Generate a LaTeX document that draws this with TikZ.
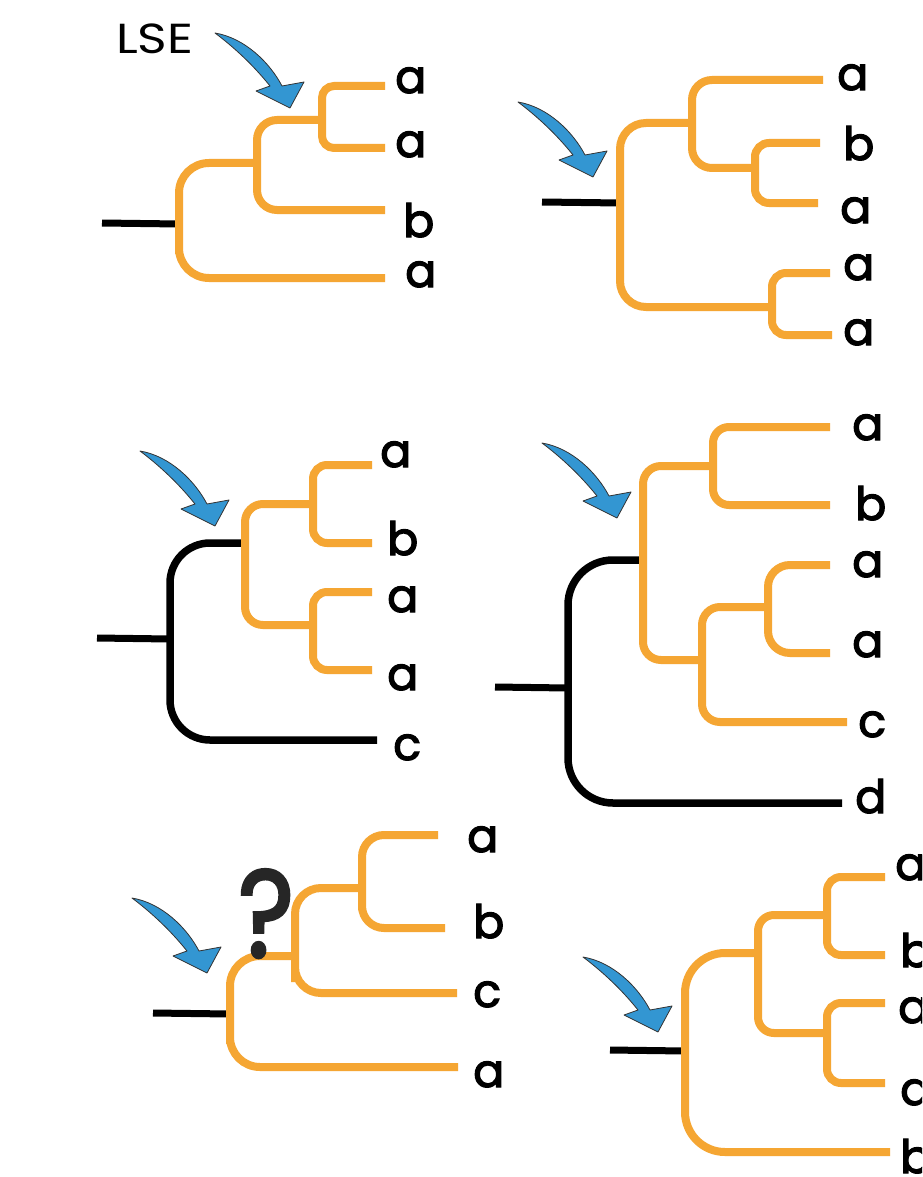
\documentclass[tikz,border=0pt]{standalone}
\usepackage{fontspec}
\setmainfont{Poppins}
\newfontfamily\heavyfont{Poppins}[FakeBold=2.5]
\definecolor{branch}{RGB}{245,166,51}
\definecolor{lseblue}{RGB}{51,150,210}
\tikzset{
  branchline/.style={line width=8pt, draw=branch, rounded corners=#1},
  branchline/.default=16,
  blackline/.style={line width=7.5pt, draw=black, rounded corners=#1},
  blackline/.default=30,
  stubline/.style={line width=7pt, draw=black},
  leaflbl/.style={anchor=base west, inner sep=0pt, font=\heavyfont\fontsize{46}{46}\selectfont},
  lsearrow/.pic={
    \filldraw[fill=lseblue, draw=black!80, line width=0.8pt, line join=round]
      (-75,-75) .. controls (-45,-70) and (-20,-45) .. (-8,-22)
      -- (14,-26) -- (0,0) -- (-34,-17) -- (-20,-22)
      .. controls (-36,-42) and (-55,-60) .. (-75,-75) -- cycle;
  }
}
\begin{document}
\begin{tikzpicture}[x=1pt,y=-1pt]
\useasboundingbox (0,0) rectangle (922,1177);
\fill[white] (0,0) rectangle (922,1177);
\clip (0,0) rectangle (922,1177);

% ---------------- Tree 1 ----------------
\coordinate (t1s) at (102,223);
\coordinate (t1r) at (179,224);
\coordinate (t1n2) at (257,163);
\coordinate (t1n3) at (322,120);
\coordinate (t1e1) at (385,86);
\coordinate (t1e2) at (385,148);
\coordinate (t1e3) at (385,210);
\coordinate (t1e4) at (385,278);
\draw[stubline] (t1s) -- (t1r);
\draw[branchline=30] (t1n2) -| (t1r) |- (t1e4);
\draw[branchline=20] (t1n3) -| (t1n2) |- (t1e3);
\draw[branchline=12] (t1e1) -| (t1n3) |- (t1e2);
\node[leaflbl] (t1a1) at (395,93) {a};
\node[leaflbl] (t1a2) at (395,157) {a};
\node[leaflbl] (t1a3) at (403,237) {b};
\node[leaflbl] (t1a4) at (405,287) {a};
\node[anchor=base west, inner sep=0pt, font=\fontsize{42}{42}\selectfont] (lse) at (116,54) {\scalebox{1.2}[1]{LSE}};
\coordinate (t1tip) at (290,108);
\pic at (t1tip) {lsearrow};

% ---------------- Tree 2 ----------------
\coordinate (t2s) at (542,202);
\coordinate (t2r) at (620,203);
\coordinate (t2A) at (692,123);
\coordinate (t2B) at (755,168);
\coordinate (t2C) at (772,307);
\coordinate (t2e1) at (823,80);
\coordinate (t2e2) at (820,143);
\coordinate (t2e3) at (818,203);
\coordinate (t2e4) at (830,273);
\coordinate (t2e5) at (832,335);
\draw[stubline] (t2s) -- (t2r);
\draw[branchline=26] (t2A) -| (t2r) |- (t2C);
\draw[branchline=20] (t2e1) -| (t2A) |- (t2B);
\draw[branchline=14] (t2e2) -| (t2B) |- (t2e3);
\draw[branchline=14] (t2e4) -| (t2C) |- (t2e5);
\node[leaflbl] (t2a1) at (837,90) {a};
\node[leaflbl] (t2a2) at (843,160) {b};
\node[leaflbl] (t2a3) at (840,223) {a};
\node[leaflbl] (t2a4) at (843,280) {a};
\node[leaflbl] (t2a5) at (843,345) {a};
\coordinate (t2tip) at (593,177);
\pic at (t2tip) {lsearrow};

% ---------------- Tree 3 ----------------
\coordinate (t3s) at (97,638);
\coordinate (t3r) at (170,639);
\coordinate (t3A) at (245,543);
\coordinate (t3B) at (313,504);
\coordinate (t3C) at (313,625);
\coordinate (t3e1) at (372,465);
\coordinate (t3e2) at (372,543);
\coordinate (t3e3) at (372,592);
\coordinate (t3e4) at (372,670);
\coordinate (t3e5) at (377,740);
\draw[stubline] (t3s) -- (t3r);
\draw[blackline=40] (t3A) -| (t3r) |- (t3e5);
\draw[branchline=18] (t3B) -| (t3A) |- (t3C);
\draw[branchline=14] (t3e1) -| (t3B) |- (t3e2);
\draw[branchline=14] (t3e3) -| (t3C) |- (t3e4);
\node[leaflbl] (t3a1) at (380,467) {a};
\node[leaflbl] (t3a2) at (387,555) {b};
\node[leaflbl] (t3a3) at (387,612) {a};
\node[leaflbl] (t3a4) at (387,690) {a};
\node[leaflbl] (t3a5) at (393,760) {c};
\coordinate (t3tip) at (215,526);
\pic at (t3tip) {lsearrow};

% ---------------- Tree 4 ----------------
\coordinate (t4s) at (495,687);
\coordinate (t4r) at (568,688);
\coordinate (t4A) at (643,560);
\coordinate (t4B) at (713,466);
\coordinate (t4C) at (702,660);
\coordinate (t4D) at (768,607);
\coordinate (t4e1) at (830,427);
\coordinate (t4e2) at (830,505);
\coordinate (t4e3) at (830,565);
\coordinate (t4e4) at (830,653);
\coordinate (t4e5) at (847,722);
\coordinate (t4e6) at (842,803);
\draw[stubline] (t4s) -- (t4r);
\draw[blackline=45] (t4A) -| (t4r) |- (t4e6);
\draw[branchline=18] (t4B) -| (t4A) |- (t4C);
\draw[branchline=16] (t4e1) -| (t4B) |- (t4e2);
\draw[branchline=18] (t4D) -| (t4C) |- (t4e5);
\draw[branchline=22] (t4e3) -| (t4D) |- (t4e4);
\node[leaflbl] (t4a1) at (852,440) {a};
\node[leaflbl] (t4a2) at (855,520) {b};
\node[leaflbl] (t4a3) at (852,577) {a};
\node[leaflbl] (t4a4) at (852,657) {a};
\node[leaflbl] (t4a5) at (858,737) {c};
\node[leaflbl] (t4a6) at (855,813) {d};
\coordinate (t4tip) at (617,518);
\pic at (t4tip) {lsearrow};

% ---------------- Tree 5 ----------------
\coordinate (t5s) at (153,1013);
\coordinate (t5r) at (230,1014);
\coordinate (t5A) at (295,956);
\coordinate (t5B) at (362,888);
\coordinate (t5e1) at (438,835);
\coordinate (t5e2) at (445,928);
\coordinate (t5e3) at (457,993);
\coordinate (t5e4) at (458,1067);
\draw[stubline] (t5s) -- (t5r);
\draw[branchline=30] (t5A) -| (t5r) |- (t5e4);
\draw[branchline=26] (t5B) -| (t5A) |- (t5e3);
\draw[branchline=22] (t5e1) -| (t5B) |- (t5e2);
\node[leaflbl] (t5a1) at (467,852) {a};
\node[leaflbl] (t5a2) at (473,938) {b};
\node[leaflbl] (t5a3) at (473,1007) {c};
\node[leaflbl] (t5a4) at (473,1087) {a};
\node[anchor=base west, inner sep=0pt, text=black!85, font=\heavyfont\fontsize{124}{124}\selectfont] (qm) at (238,957) {\scalebox{0.86}[1]{?}};
\coordinate (t5tip) at (207,973);
\pic at (t5tip) {lsearrow};

% ---------------- Tree 6 ----------------
\coordinate (t6s) at (610,1050);
\coordinate (t6r) at (685,1051);
\coordinate (t6A) at (758,953);
\coordinate (t6B) at (827,915);
\coordinate (t6C) at (827,1033);
\coordinate (t6e1) at (885,877);
\coordinate (t6e2) at (885,955);
\coordinate (t6e3) at (885,1003);
\coordinate (t6e4) at (885,1083);
\coordinate (t6e5) at (890,1152);
\draw[stubline] (t6s) -- (t6r);
\draw[branchline=40] (t6A) -| (t6r) |- (t6e5);
\draw[branchline=16] (t6B) -| (t6A) |- (t6C);
\draw[branchline=14] (t6e1) -| (t6B) |- (t6e2);
\draw[branchline=14] (t6e3) -| (t6C) |- (t6e4);
\node[leaflbl] (t6a1) at (895,880) {a};
\node[leaflbl] (t6a2) at (900,967) {b};
\node[leaflbl] (t6a3) at (898,1023) {a};
\node[leaflbl] (t6a4) at (900,1105) {a};
\node[leaflbl] (t6a5) at (900,1173) {b};
\coordinate (t6tip) at (658,1032);
\pic at (t6tip) {lsearrow};
\end{tikzpicture}
\end{document}
